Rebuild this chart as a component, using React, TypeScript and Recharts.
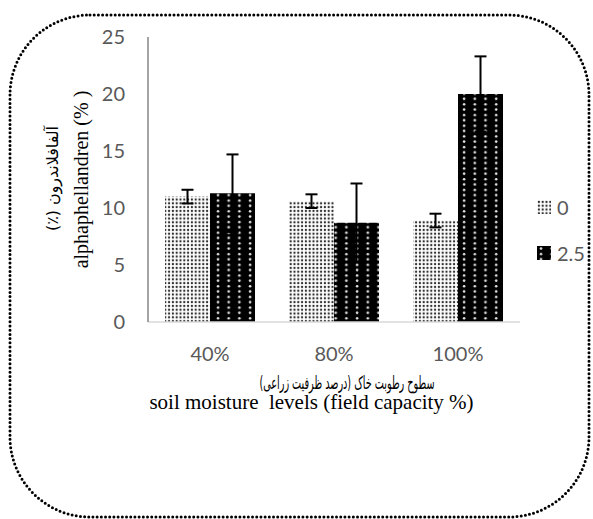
import React from 'react';
import { BarChart, Bar, XAxis, YAxis, ErrorBar, Legend } from 'recharts';

const categories = ['40%', '80%', '100%'];
const seriesNames = ['0', '2.5'];
const values0 = [11.0, 10.6, 8.9];
const values25 = [11.3, 8.7, 20.0];
const errors0 = [0.6, 0.6, 0.6];
const errors25 = [3.4, 3.45, 3.3];
const yTicks = [0, 5, 10, 15, 20, 25];

const yTitleEn = 'alphaphellandren (% )';
const yTitleFa = 'آلفافلاندرون (٪)';
const xTitleFa = 'سطوح رطوبت خاک (درصد ظرفیت زراعی)';
const xTitleEn = 'soil moisture  levels (field capacity %)';

const data = categories.map((c, i) => ({
  cat: c,
  v0: values0[i],
  v25: values25[i],
  e0: errors0[i],
  e25: errors25[i],
}));

const tickStyle = { fill: '#595959', fontSize: 20, fontFamily: 'Lato, "Open Sans", sans-serif' };
const serif = '"Liberation Serif", "Times New Roman", "DejaVu Serif", serif';
const faFont = '"DejaVu Sans", "Liberation Serif", serif';

const renderYLabel = (props: any) => {
  const vb = props.viewBox || { x: 0, y: 37, width: 148, height: 285 };
  const cy = vb.y + vb.height / 2;
  const xEn = vb.x + 81;
  const xFa = vb.x + 52;
  return (
    <g>
      <text
        x={xFa}
        y={cy - 1}
        textAnchor="middle"
        dominantBaseline="central"
        direction="rtl"
        textLength={105}
        lengthAdjust="spacingAndGlyphs"
        transform={`rotate(-90, ${xFa}, ${cy - 1})`}
        style={{ fontFamily: faFont, fontSize: 16, fill: '#000' }}
      >
        {yTitleFa}
      </text>
      <text
        x={xEn}
        y={cy}
        textAnchor="middle"
        dominantBaseline="central"
        transform={`rotate(-90, ${xEn}, ${cy})`}
        style={{ fontFamily: serif, fontSize: 20, fill: '#000', whiteSpace: 'pre' }}
      >
        {yTitleEn}
      </text>
    </g>
  );
};

const renderXLabel = (props: any) => {
  const vb = props.viewBox || { x: 148, y: 322, width: 372, height: 30 };
  return (
    <g>
      <text
        x={vb.x + 199}
        y={vb.y + 60}
        textAnchor="middle"
        dominantBaseline="central"
        direction="rtl"
        textLength={175}
        lengthAdjust="spacingAndGlyphs"
        style={{ fontFamily: faFont, fontSize: 18, fill: '#000' }}
      >
        {xTitleFa}
      </text>
      <text
        x={vb.x + 163.5}
        y={vb.y + 80}
        textAnchor="middle"
        dominantBaseline="central"
        style={{ fontFamily: serif, fontSize: 21, fill: '#000', whiteSpace: 'pre' }}
      >
        {xTitleEn}
      </text>
    </g>
  );
};

const renderLegend = (props: any) => {
  const payload = props.payload || [];
  return (
    <div style={{ display: 'flex', flexDirection: 'column' }}>
      {payload.map((entry: any, i: number) => (
        <div key={i} style={{ display: 'flex', alignItems: 'center', height: 46 }}>
          <svg width={14} height={14} style={{ display: 'block' }}>
            <rect width={14} height={14} fill={entry.color} />
          </svg>
          <span style={{ marginLeft: 6, fontFamily: 'Lato, sans-serif', fontSize: 20, color: '#595959', lineHeight: '20px' }}>
            {entry.value}
          </span>
        </div>
      ))}
    </div>
  );
};

export default function App() {
  return (
    <div style={{ position: 'absolute', left: 0, top: 0, width: 593, height: 519, background: '#fff', overflow: 'hidden' }}>
      <BarChart
        width={593}
        height={519}
        data={data}
        margin={{ top: 37, right: 73, bottom: 167, left: 0 }}
        barGap={0}
        barSize={45}
      >
        <defs>
          <pattern id="dotsLight" width={3.8} height={3.8} patternUnits="userSpaceOnUse">
            <rect width={3.8} height={3.8} fill="#fff" />
            <circle cx={1.9} cy={1.9} r={1.15} fill="#2e2e2e" />
          </pattern>
          <pattern id="dotsDark" width={10.7} height={10.7} patternUnits="userSpaceOnUse">
            <rect width={10.7} height={10.7} fill="#000" />
            <circle cx={4} cy={2.5} r={1.3} fill="#e6e6e6" />
            <circle cx={4} cy={8} r={1.3} fill="#e6e6e6" />
          </pattern>
        </defs>
        <XAxis
          dataKey="cat"
          height={30}
          axisLine={{ stroke: '#d9d9d9', strokeWidth: 1.5 }}
          tickLine={false}
          tickSize={0}
          tickMargin={25}
          tick={tickStyle}
          label={renderXLabel}
        />
        <YAxis
          width={148}
          domain={[0, 25]}
          ticks={yTicks}
          interval={0}
          axisLine={{ stroke: '#868686', strokeWidth: 1.5 }}
          tickLine={false}
          tickSize={0}
          tickMargin={23}
          tick={tickStyle}
          label={renderYLabel}
        />
        <Legend
          layout="vertical"
          align="center"
          verticalAlign="middle"
          content={renderLegend}
          wrapperStyle={{ left: 537, top: 184, width: 56 }}
        />
        <Bar dataKey="v0" name={seriesNames[0]} fill="url(#dotsLight)" isAnimationActive={false}>
          <ErrorBar dataKey="e0" width={6} stroke="#000" strokeWidth={2} isAnimationActive={false} />
        </Bar>
        <Bar dataKey="v25" name={seriesNames[1]} fill="url(#dotsDark)" isAnimationActive={false}>
          <ErrorBar dataKey="e25" width={6} stroke="#000" strokeWidth={2} isAnimationActive={false} />
        </Bar>
      </BarChart>
      <svg width={593} height={519} style={{ position: 'absolute', left: 0, top: 0, pointerEvents: 'none' }}>
        <rect
          x={10}
          y={15}
          width={579}
          height={502}
          rx={80}
          ry={80}
          fill="none"
          stroke="#000"
          strokeWidth={3}
          strokeDasharray="0 4.2"
          strokeLinecap="round"
        />
      </svg>
    </div>
  );
}
